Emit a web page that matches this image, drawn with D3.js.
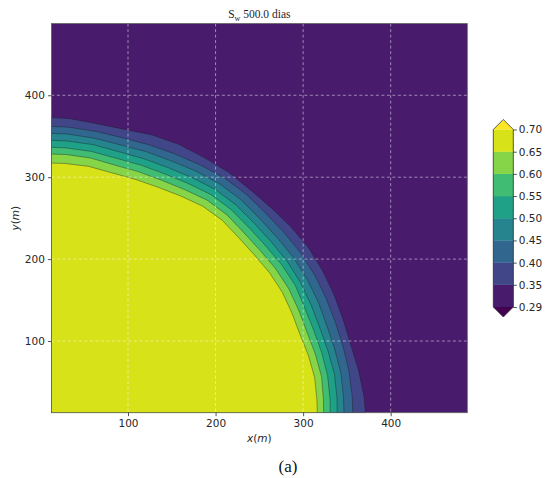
<!DOCTYPE html>
<html><head><meta charset="utf-8">
<script src="https://cdn.jsdelivr.net/npm/d3@7"></script>
<style>body{margin:0;background:#fff}svg{display:block}</style>
</head><body><svg id="c" width="545" height="478"></svg>
<script>
// ---- data ----
const levels = [0.29, 0.35, 0.40, 0.45, 0.50, 0.55, 0.60, 0.65, 0.70];
const levelLabels = ["0.29","0.35","0.40","0.45","0.50","0.55","0.60","0.65","0.70"];
const xTicks = [100, 200, 300, 400];
const yTicks = [100, 200, 300, 400];
const xDomain = [12.5, 487.5];
const yDomain = [12.5, 487.5];
// contour radii (m, from origin corner) at angles measured from the x axis (deg)
const angles = [0, 5, 10, 15, 20, 25, 30, 35, 40, 45, 50, 55, 60, 65, 70, 75, 80, 85, 90];
const r035 = [372, 371, 369, 367, 368, 370, 372, 373.5, 373, 372, 372, 374, 374, 375, 374, 371, 371, 373, 373.5];
const r040 = [357, 357.5, 358, 358, 358.5, 360, 361.5, 362.5, 362.5, 363, 365, 365.5, 364, 362.5, 361.5, 360.5, 361.5, 362.5, 362.5];
const r045 = [347, 347.5, 348.5, 348, 348, 350, 351.5, 352.5, 352.5, 353.5, 356, 356.5, 355, 353, 352.5, 351.5, 353, 354, 354];
const r050 = [339, 340, 341, 340, 339.5, 341, 343, 344, 344, 345, 347.5, 348, 346, 344, 343.5, 343, 345, 345.5, 345.5];
const r055 = [331, 332, 333, 332.5, 332, 333, 336, 336.5, 336, 337, 339.5, 340, 337.5, 335.5, 335, 334.5, 336.5, 337, 337];
const r060 = [323.5, 324.5, 326, 325, 324, 325.5, 327.5, 328, 327.5, 328.5, 331.5, 332, 329, 327, 326.5, 326, 328.5, 329, 328.5];
const r065 = [316.5, 317, 318, 317, 315.5, 317, 319, 319.5, 319, 320, 323, 323, 320, 317.5, 316.5, 316, 318, 318, 317.5];
const contourRadii = [r035, r040, r045, r050, r055, r060, r065]; // levels 0.35 .. 0.65

// ---- layout ----
const W = 545, H = 478;
const plot = {left: 51.4, right: 467.3, top: 23.6, bottom: 412.7};
const cbar = {left: 493.3, right: 513.3, top: 129.5, bottom: 307, ext: 10};
const textCol = "#262626";
const tickFont = "'DejaVu Sans', sans-serif";

const svg = d3.select("#c");
const x = d3.scaleLinear().domain(xDomain).range([plot.left, plot.right]);
const y = d3.scaleLinear().domain(yDomain).range([plot.bottom, plot.top]);
const vmin = levels[0], vmax = levels[levels.length - 1];
const bandColor = i => d3.interpolateViridis(((levels[i] + levels[i + 1]) / 2 - vmin) / (vmax - vmin));

svg.append("defs").append("clipPath").attr("id", "clip")
  .append("rect").attr("x", plot.left).attr("y", plot.top)
  .attr("width", plot.right - plot.left).attr("height", plot.bottom - plot.top);

const g = svg.append("g").attr("clip-path", "url(#clip)");
// lowest band covers the whole domain
g.append("rect").attr("x", plot.left).attr("y", plot.top)
  .attr("width", plot.right - plot.left).attr("height", plot.bottom - plot.top)
  .attr("fill", bandColor(0));

const toPts = rs => rs.map((r, i) => {
  const a = angles[i] * Math.PI / 180;
  return [r * Math.cos(a), r * Math.sin(a)];
});
const line = d3.line().x(d => x(d[0])).y(d => y(d[1]));

contourRadii.forEach((rs, k) => {
  const pts = toPts(rs);
  g.append("path").attr("d", line([[0, 0], ...pts]) + "Z").attr("fill", bandColor(k + 1));
});
contourRadii.forEach(rs => {
  g.append("path").attr("d", line(toPts(rs))).attr("fill", "none")
    .attr("stroke", "#1a1a1a").attr("stroke-width", 0.7).attr("stroke-opacity", 0.55);
});

// grid
const grid = svg.append("g").attr("stroke", "#ffffff").attr("stroke-opacity", 0.6)
  .attr("stroke-width", 0.8).attr("stroke-dasharray", "3,2.5");
xTicks.forEach(t => grid.append("line").attr("x1", x(t)).attr("x2", x(t)).attr("y1", plot.top).attr("y2", plot.bottom));
yTicks.forEach(t => grid.append("line").attr("y1", y(t)).attr("y2", y(t)).attr("x1", plot.left).attr("x2", plot.right));

// frame
svg.append("rect").attr("x", plot.left).attr("y", plot.top)
  .attr("width", plot.right - plot.left).attr("height", plot.bottom - plot.top)
  .attr("fill", "none").attr("stroke", "#555").attr("stroke-width", 0.8);

// axes
const styleAxis = sel => {
  sel.select(".domain").remove();
  sel.selectAll("line").attr("stroke", textCol).attr("stroke-width", 0.8);
  sel.selectAll("text").attr("fill", textCol).style("font-family", tickFont).style("font-size", "10.5px");
};
svg.append("g").attr("transform", `translate(0,${plot.bottom})`)
  .call(d3.axisBottom(x).tickValues(xTicks).tickSize(3.5).tickPadding(3).tickFormat(d3.format("d")))
  .call(styleAxis);
svg.append("g").attr("transform", `translate(${plot.left},0)`)
  .call(d3.axisLeft(y).tickValues(yTicks).tickSize(3.5).tickPadding(3).tickFormat(d3.format("d")))
  .call(styleAxis);

// axis labels
const xl = svg.append("text").attr("x", (plot.left + plot.right) / 2).attr("y", 442)
  .attr("text-anchor", "middle").attr("fill", textCol)
  .style("font-family", tickFont).style("font-size", "10.5px");
xl.append("tspan").style("font-style", "italic").text("x");
xl.append("tspan").text("(");
xl.append("tspan").style("font-style", "italic").text("m");
xl.append("tspan").text(")");
const yl = svg.append("text").attr("transform", `translate(19,${(plot.top + plot.bottom) / 2}) rotate(-90)`)
  .attr("text-anchor", "middle").attr("fill", textCol)
  .style("font-family", tickFont).style("font-size", "10.5px");
yl.append("tspan").style("font-style", "italic").text("y");
yl.append("tspan").text("(");
yl.append("tspan").style("font-style", "italic").text("m");
yl.append("tspan").text(")");

// title
const tt = svg.append("text").attr("x", (plot.left + plot.right) / 2).attr("y", 18)
  .attr("text-anchor", "middle").attr("fill", textCol)
  .style("font-family", "'Liberation Serif', 'Times New Roman', serif").style("font-size", "11.5px");
tt.append("tspan").text("S");
tt.append("tspan").attr("dy", 2.5).style("font-size", "8px").text("w");
tt.append("tspan").attr("dy", -2.5).text(" 500.0 dias");

// colorbar
const cb = d3.scaleLinear().domain([0, levels.length - 1]).range([cbar.bottom, cbar.top]);
const cbg = svg.append("g");
for (let i = 0; i < levels.length - 1; i++) {
  cbg.append("rect").attr("x", cbar.left).attr("y", cb(i + 1))
    .attr("width", cbar.right - cbar.left).attr("height", cb(i) - cb(i + 1))
    .attr("fill", bandColor(i)).attr("stroke", bandColor(i)).attr("stroke-width", 0.3);
}
const cx = (cbar.left + cbar.right) / 2;
cbg.append("path").attr("d", `M${cbar.left},${cbar.top}L${cx},${cbar.top - cbar.ext}L${cbar.right},${cbar.top}Z`)
  .attr("fill", d3.interpolateViridis(1));
cbg.append("path").attr("d", `M${cbar.left},${cbar.bottom}L${cx},${cbar.bottom + cbar.ext}L${cbar.right},${cbar.bottom}Z`)
  .attr("fill", d3.interpolateViridis(0));
cbg.append("path")
  .attr("d", `M${cbar.left},${cbar.top}L${cx},${cbar.top - cbar.ext}L${cbar.right},${cbar.top}L${cbar.right},${cbar.bottom}L${cx},${cbar.bottom + cbar.ext}L${cbar.left},${cbar.bottom}Z`)
  .attr("fill", "none").attr("stroke", "#333").attr("stroke-width", 0.8);
svg.append("g").attr("transform", `translate(${cbar.right},0)`)
  .call(d3.axisRight(cb).tickValues(d3.range(levels.length)).tickSize(3.5).tickPadding(2).tickFormat(i => levelLabels[i]))
  .call(styleAxis);

// caption
svg.append("text").attr("x", 288).attr("y", 472).attr("text-anchor", "middle").attr("fill", "#111")
  .style("font-family", "'Liberation Serif', 'Times New Roman', serif").style("font-size", "17px").text("(a)");
</script></body></html>
